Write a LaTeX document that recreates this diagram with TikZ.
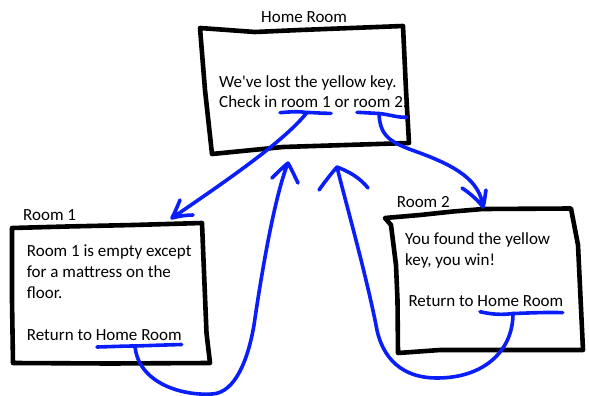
\documentclass[tikz,border=0pt]{standalone}
\usepackage{fontspec}
\setmainfont{Carlito}[Ligatures=TeXOff]
\definecolor{penblue}{RGB}{10,30,250}
\tikzset{
  boxline/.style={line width=4.6pt, black, line join=round, line cap=round},
  pen/.style={line width=3.6pt, penblue, line join=round, line cap=round},
  txt/.style={anchor=base west, inner sep=0pt, font=\fontsize{17}{20}\selectfont},
}
\begin{document}
\begin{tikzpicture}[x=1pt,y=-1pt]
\useasboundingbox (0,0) rectangle (589,396);

% ---- Home Room box
\coordinate (h1) at (200,28);
\coordinate (h2) at (403,26);
\coordinate (h3) at (409,143);
\coordinate (h4) at (212,154);
\draw[boxline] (h1) -- (255,32) -- (300,30) -- (h2) -- (406,90) -- (h3) -- (283,147) -- (h4) -- (205,90) -- cycle;
\node[txt] (homet) at (261,22.7) {Home Room};
\node[txt] (hl1) at (219,87.3) {We've lost the yellow key.};
\node[txt] (hl2) at (219,107.3) {Check in room 1 or room 2.};

% ---- Room 1 box
\coordinate (a1) at (12,228);
\coordinate (a2) at (202,223);
\coordinate (a3) at (210,363);
\coordinate (a4) at (13,363);
\draw[boxline] (a1) -- (67,226.5) -- (133,225) -- (a2) -- (206.5,333) -- (a3) -- (110,363.5) -- (a4) -- (12,300) -- cycle;
\node[txt] (r1t) at (23,220) {Room 1};
\node[txt] (r1l1) at (26.7,256.7) {Room 1 is empty except};
\node[txt] (r1l2) at (26.7,277.5) {for a mattress on the};
\node[txt] (r1l3) at (26.7,298.3) {floor.};
\node[txt] (r1l4) at (26.7,340) {Return to Home Room};

% ---- Room 2 box
\coordinate (b1) at (385,218);
\coordinate (b2) at (571,208.5);
\coordinate (b3) at (583,350);
\coordinate (b4) at (398,353);
\draw[boxline] (b1) -- (420,215) -- (453,211.5) -- (483,209) -- (b2) -- (578,245) -- (b3) -- (440,350) -- (b4) -- (397.5,300) -- (396,265) -- (391,225) -- cycle;
\node[txt] (r2t) at (396.7,207.3) {Room 2};
\node[txt] (r2l1) at (405,244.3) {You found the yellow};
\node[txt] (r2l2) at (405,265) {key, you win!};
\node[txt] (r2l4) at (408.3,306.7) {Return to Home Room};

% ---- anchor points for the connectors
\coordinate (ul1) at (307,112.5);   % under "room 1"
\coordinate (ul2) at (379,113.5);   % under "room 2"
\coordinate (ulr1) at (135,346);    % under "Home Room" in Room 1
\coordinate (ulr2) at (513,313.5);  % under "Home Room" in Room 2
\coordinate (tipA) at (172,218);
\coordinate (tipB) at (483,207);
\coordinate (tipC) at (288,163);
\coordinate (tipD) at (337,167);

% underlines
\draw[pen] (280,112.7) .. controls (292,111.5) and (300,111.5) .. (ul1) .. controls (315,112.5) and (322,113.5) .. (331,113.3);
\draw[pen] (357,112.3) -- (ul2) .. controls (390,114.5) and (396,117.5) .. (406.7,117.3);
\draw[pen] (97,347) .. controls (115,346.5) and (125,346) .. (ulr1) .. controls (150,345.5) and (165,345) .. (181.7,344.5);
\draw[pen] (480,311.7) .. controls (492,314.5) and (502,315) .. (ulr2) .. controls (530,313) and (548,312) .. (562.7,312.7);

% connector A: room 1 -> Room 1
\draw[pen] (ul1) .. controls (285,140) and (235,175) .. (tipA)
      (tipA) .. controls (176,210) and (178,205) .. (180,200)
      (tipA) .. controls (180,216) and (186,215) .. (193,215);

% connector B: room 2 -> Room 2
\draw[pen] (ul2) .. controls (380,138) and (392,143) .. (420,153)
      .. controls (455,166) and (480,180) .. (tipB)
      (tipB) .. controls (476,198) and (468,192) .. (462,188)
      (tipB) .. controls (485,200) and (485,195) .. (486,190);

% connector C: Room 1 "Home Room" -> Home Room
\draw[pen] (ulr1) .. controls (138,382) and (180,396) .. (212,394)
      .. controls (235,393) and (248,360) .. (254,325)
      .. controls (262,270) and (275,195) .. (tipC)
      (tipC) .. controls (282,168) and (276,174) .. (272,178)
      (tipC) .. controls (292,170) and (295,177) .. (298,183);

% connector D: Room 2 "Home Room" -> Home Room
\draw[pen] (ulr2) .. controls (513,350) and (485,378) .. (437,378)
      .. controls (395,378) and (380,350) .. (376,325)
      .. controls (365,270) and (345,200) .. (tipD)
      (tipD) .. controls (330,175) and (324,183) .. (319,190)
      (tipD) .. controls (350,172) and (360,178) .. (368,188);
\end{tikzpicture}
\end{document}
